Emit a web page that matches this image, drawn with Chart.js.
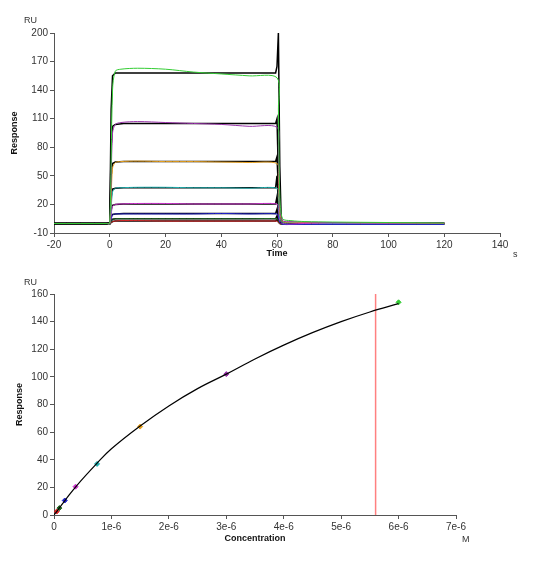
<!DOCTYPE html>
<html><head><meta charset="utf-8">
<script src="https://cdn.jsdelivr.net/npm/chart.js@4"></script>
<style>
body{margin:0;background:#fff;font-family:"Liberation Sans",Arial,sans-serif;}
#w{position:relative;width:533px;height:564px;}
canvas{position:absolute;left:0;}
.t{position:absolute;font-size:9px;color:#333;}
</style></head><body>
<div id="w">
<canvas id="c1" style="top:0;width:533px;height:270px"></canvas>
<canvas id="c2" style="top:280px;width:533px;height:284px"></canvas>
<div class="t" style="left:24px;top:15px">RU</div>
<div class="t" style="left:513px;top:249px">s</div>
<div class="t" style="left:24px;top:277px">RU</div>
<div class="t" style="left:462px;top:534px">M</div>
</div>
<script>
// sensorgram, raw curves
const rawTime = [-20, -1, 0, 1, 2, 4, 10, 20, 30, 40, 50, 60, 60.5, 61, 62, 65, 70, 80, 100, 120];
const rawGreen   = [0, 0, 0, 140, 160, 162, 163, 162, 159, 157, 155, 153, 120, 30, 5, 3, 2, 1.5, 1, 0.5];
const rawPurple  = [0, 0, 0, 95, 104, 106, 107, 106, 105, 104, 102, 101, 80, 20, 3, 2, 1.5, 1, 0.5, 0.5];
const rawOrange  = [0, 0, 0, 58, 64, 65, 65.5, 65, 65, 64.5, 64, 63, 50, 12, 2, 1.5, 1, 1, 0.5, 0];
const rawTeal    = [0, 0, 0, 33, 37, 37.5, 38, 38, 37.5, 37.5, 37, 37, 28, 6, 1, 1, 1, 0.5, 0.5, 0];
const rawMagenta = [0, 0, 0, 18, 20, 20.5, 21, 21, 20.5, 20.5, 20.5, 20.5, 15, 3, 0, -0.5, 0, 0, 0, 0];
const rawBlue    = [0, 0, 0, 9, 10, 10, 10, 10, 10, 10.5, 10, 10, 7, 1, -1, -1, -1, -1, -1, -1];
const rawDkGreen = [0, 0, 0, 4, 5, 5, 5, 5, 5, 5, 5, 5, 3, 0, -1, -1, -1, -1, -1, -1];
const rawRed     = [0, 0, 0, 2, 2.5, 3, 3, 2.5, 2.5, 2.5, 2.5, 2.5, 1.5, -0.5, -1, -1, -0.5, -0.5, -0.5, -0.5];
const rawColors = ['#33cc33', '#9933aa', '#e6a020', '#20b0b0', '#cc33cc', '#2222cc', '#226622', '#dd2222'];
// fitted curves
const fitTime = [-20, 0, 0.5, 1, 2, 5, 59.5, 60, 60.5, 61, 61.5, 62, 64, 120];
const fitLevels = [
  [0, 0, 120, 155, 158, 158, 158, 165, 200, 60, 5, 1, 0, 0],
  [0, 0, 80, 102, 104, 105, 105, 110, 50, 10, 2, 0.5, 0, 0],
  [0, 0, 50, 63, 64.5, 65, 65, 70, 35, 6, 1, 0, 0, 0],
  [0, 0, 28, 36, 37, 37.5, 37.5, 50, 20, 3, 0.5, 0, 0, 0],
  [0, 0, 15, 19, 20, 20.5, 20.5, 28, 10, 2, 0, 0, 0, 0],
  [0, 0, 7, 9.5, 10, 10.5, 10.5, 15, 5, 1, 0, 0, 0, 0],
  [0, 0, 3, 4.5, 5, 5, 5, 8, 3, 0.5, 0, 0, 0, 0],
  [0, 0, 1, 2, 2.5, 2.5, 2.5, 4, 1.5, 0, 0, 0, 0, 0]
];
// steady state
const conc = [4.6875e-8, 9.375e-8, 1.875e-7, 3.75e-7, 7.5e-7, 1.5e-6, 3e-6, 6e-6];
const resp = [2.5, 5, 10.5, 20.5, 37, 64, 102, 154];
const fitConc = [0, 4.6875e-8, 1e-7, 2e-7, 4e-7, 7.5e-7, 1e-6, 1.5e-6, 2e-6, 2.5e-6, 3e-6, 3.5e-6, 4e-6, 4.5e-6, 5e-6, 5.5e-6, 6e-6];
const fitResp = [0, 2.5, 5.5, 11, 21.5, 37.5, 48, 64.5, 79, 91.5, 102, 113, 123, 132, 140, 147, 153];
const refLine = 5.6e-6;

const tickFont = {family: 'Liberation Sans', size: 10};
function axis(min, max, step, title, w, h, tpad, fmt) {
  const a = {
    type: 'linear', min: min, max: max,
    border: {color: '#555'},
    grid: {drawOnChartArea: false, tickLength: 4, color: '#555'},
    ticks: {stepSize: step, color: '#333', font: tickFont, padding: 2},
    title: {display: !!title, text: title, color: '#111', font: {family: 'Liberation Sans', size: 9, weight: 'bold'}, padding: tpad}
  };
  if (fmt) a.ticks.callback = fmt;
  a.afterFit = s => { if (w) s.width = w; if (h) s.height = h; };
  return a;
}
const pair = (xs, ys) => ys.map((y, i) => ({x: xs[i], y: y}));

const raws = [rawGreen, rawPurple, rawOrange, rawTeal, rawMagenta, rawBlue, rawDkGreen, rawRed];
const ds1 = raws.map((r, i) => ({data: pair(rawTime, r), borderColor: rawColors[i], borderWidth: 1, pointRadius: 0, tension: 0.3}));
fitLevels.forEach(f => ds1.push({data: pair(fitTime, f), borderColor: '#000', borderWidth: 1.5, pointRadius: 0}));

new Chart(document.getElementById('c1'), {
  type: 'line',
  data: {datasets: ds1},
  options: {
    responsive: false, animation: false, devicePixelRatio: 1,
    layout: {padding: {top: 33, right: 33, left: 0, bottom: 0}},
    plugins: {legend: {display: false}, tooltip: {enabled: false}},
    scales: {
      x: axis(-20, 140, 20, 'Time', 0, 37, {top: 1, bottom: 11}),
      y: axis(-10, 200, 30, 'Response', 54, 0, {top: 9, bottom: 1})
    }
  }
});

new Chart(document.getElementById('c2'), {
  type: 'scatter',
  data: {datasets: [
    {type: 'line', data: pair(fitConc, fitResp), borderColor: '#000', borderWidth: 1.2, pointRadius: 0, tension: 0.4},
    {data: pair(conc, resp), pointStyle: 'rectRot', pointRadius: 2.5, borderWidth: 1,
     borderColor: rawColors.slice().reverse(), backgroundColor: rawColors.slice().reverse()},
    {type: 'line', data: [{x: refLine, y: 0}, {x: refLine, y: 160}], borderColor: '#ff8080', borderWidth: 1.5, pointRadius: 0}
  ]},
  options: {
    responsive: false, animation: false, devicePixelRatio: 1,
    layout: {padding: {top: 14, right: 77, left: 0, bottom: 0}},
    plugins: {legend: {display: false}, tooltip: {enabled: false}},
    scales: {
      x: axis(0, 7e-6, 1e-6, 'Concentration', 0, 49, {top: 1, bottom: 20}, v => v === 0 ? '0' : Math.round(v * 1e6) + 'e-6'),
      y: axis(0, 160, 20, 'Response', 54, 0, {top: 14, bottom: 1})
    }
  }
});
</script>
</body></html>
